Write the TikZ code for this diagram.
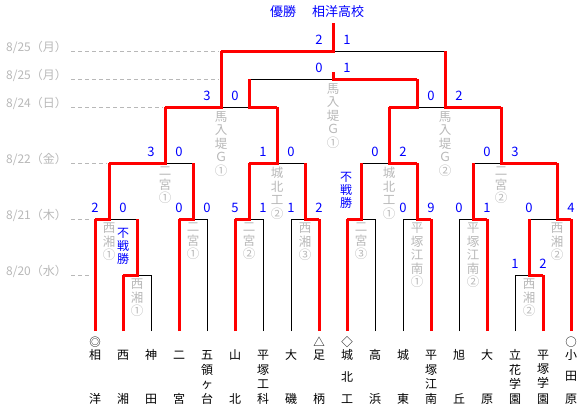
\documentclass[tikz,border=0pt]{standalone}
\usepackage{fontspec}
\setmainfont{Noto Sans CJK JP}
\usepackage{tikz}
\usetikzlibrary{calc}
\usepackage{xcolor}
\definecolor{winred}{HTML}{FF0000}
\definecolor{scoreblue}{HTML}{0000FF}
\definecolor{palegray}{HTML}{B8B8B8}
\tikzset{
  win/.style={line width=3pt, draw=winred, line cap=square},
  lose/.style={line width=1pt, draw=black},
  dateline/.style={line width=1pt, draw=palegray, dash pattern=on 4pt off 3pt},
  datetext/.style={text=palegray, font=\fontsize{12}{12}\selectfont, anchor=west, inner sep=0pt},
  score/.style={text=scoreblue, font=\fontsize{13}{13}\selectfont, inner sep=0pt},
  venue/.style={text=palegray, font=\fontsize{12.5}{13.5}\selectfont, align=center, anchor=north, inner sep=0pt},
  walkover/.style={text=scoreblue, font=\fontsize{12}{13}\selectfont, align=center, anchor=north, inner sep=0pt},
  teamtext/.style={font=\fontsize{12}{14}\selectfont, align=center, inner sep=0pt},
}

\begin{document}
\begin{tikzpicture}[x=1pt, y=-1pt]  % 1px = 1pt, y nach unten
  \useasboundingbox (0,0) rectangle (584,410);
  % 優勝
  \node[score, anchor=west] (title1) at (270,12) {優勝};
  \node[score, anchor=west] (title2) at (312,12) {相洋高校};
  % 日付と点線
  \foreach \y/\e/\d/\w [count=\i] in {51/219/25/月, 79/219/25/月, 107/163/24/日, 163/107/22/金, 219/91/21/木, 275/90/20/水}{
    \node[datetext] (date\i) at (6,\y-4) {8/\d（\w）};
    \draw[dateline] (71,\y) -- (\e,\y);
  }
  % 敗者の縦線（チーム 28px 間隔）
  \foreach \k/\t in {2/275,4/219,6/219,7/219,10/219,11/219,13/219,15/275}
    \draw[lose] ({95+28*\k},331) -- ({95+28*\k},\t);
  % 試合の横線 黒（勝者/上/敗者 の列, 14px 間隔）
  \foreach \lv/\tp/\w/\u/\l in {275/219/2/3/4, 275/219/32/31/30,
      219/163/0/1/3, 219/163/6/7/8, 219/163/10/11/12, 219/163/16/15/14,
      219/163/18/19/20, 219/163/24/23/22, 219/163/28/27/26, 219/163/34/33/31,
      163/107/1/5/7, 163/107/11/13/15, 163/107/23/21/19, 163/107/33/29/27}
    \draw[lose] ({95+14*\u},\lv) -- ({95+14*\l},\lv);
  \draw[lose] (221,107) -- (249,107);
  \draw[lose] (417,107) -- (445,107);
  \draw[lose] (249,79) -- (333,79);
  \draw[lose] (333,51) -- (445,51);
  % 勝者の縦線 赤
  \foreach \k/\t in {0/219,1/275,3/219,5/219,8/219,9/219,12/219,14/219,16/275,17/219}
    \draw[win] ({95+28*\k},331) -- ({95+28*\k},\t);
  \foreach \lv/\tp/\w/\u/\l in {275/219/2/3/4, 275/219/32/31/30,
      219/163/0/1/3, 219/163/6/7/8, 219/163/10/11/12, 219/163/16/15/14,
      219/163/18/19/20, 219/163/24/23/22, 219/163/28/27/26, 219/163/34/33/31,
      163/107/1/5/7, 163/107/11/13/15, 163/107/23/21/19, 163/107/33/29/27}
    \draw[win] ({95+14*\w},\lv) -- ({95+14*\u},\lv) -- ({95+14*\u},\tp);
  % 準決勝・3位決定戦・決勝
  \draw[win] (165,107) -- (221,107) -- (221,51);
  \draw[win] (277,107) -- (249,107) -- (249,79);
  \draw[win] (389,107) -- (417,107) -- (417,79);
  \draw[win] (501,107) -- (445,107) -- (445,51);
  \draw[win] (417,79) -- (333,79) -- (333,72);
  \draw[win] (221,51) -- (333,51) -- (333,23);
  % スコア
  \foreach \lv/\k/\s [count=\i] in {275/30/1, 275/32/2,
      219/0/2, 219/2/0, 219/6/0, 219/8/0, 219/10/5, 219/12/1, 219/14/1, 219/16/2,
      219/22/0, 219/24/9, 219/26/0, 219/28/1, 219/31/0, 219/34/4,
      163/4/3, 163/6/0, 163/12/1, 163/14/0, 163/20/0, 163/22/2, 163/28/0, 163/30/3,
      107/8/3, 107/10/0, 107/24/0, 107/26/2, 79/16/0, 79/18/1, 51/16/2, 51/18/1}
    \node[score] (s\i) at ({95+14*\k},\lv-11) {\s};
  % 会場
  \foreach \k/\lv/\txt [count=\i] in {3/275/{西\\湘\\①}, 31/275/{西\\湘\\②},
      1/219/{西\\湘\\①}, 7/219/{二\\宮\\①}, 11/219/{二\\宮\\②}, 15/219/{西\\湘\\③},
      19/219/{二\\宮\\③}, 23/219/{平\\塚\\江\\南\\①}, 27/219/{平\\塚\\江\\南\\②}, 33/219/{西\\湘\\②},
      5/163/{二\\宮\\①}, 13/163/{城\\北\\工\\②}, 21/163/{城\\北\\工\\①}, 29/163/{二\\宮\\②},
      9/107/{馬\\入\\堤\\Ｇ\\①}, 25/107/{馬\\入\\堤\\Ｇ\\②}, 17/79/{馬\\入\\堤\\Ｇ\\①}}
    \node[venue] (v\i) at ({95+14*\k},\lv+4) {\txt};
  % 不戦勝
  \node[walkover] (bye1) at (123,228.5) {不\\戦\\勝};
  \node[walkover] (bye2) at (346,172.5) {不\\戦\\勝};
  % 校名
  \foreach \k/\a/\b in {0/相/洋, 1/西/湘, 2/神/田, 3/二/宮, 4/五/台, 5/山/北, 6/平/科, 7/大/磯, 8/足/柄,
      9/城/工, 10/高/浜, 11/城/東, 12/平/南, 13/旭/丘, 14/大/原, 15/立/園, 16/平/園, 17/小/原}{
    \node[teamtext] (team\k) at ({95+28*\k},355) {\a};
    \node[teamtext] (teamb\k) at ({95+28*\k},399) {\b};
  }
  \foreach \k/\m in {4/{領\\ヶ}, 6/{塚\\工}, 9/北, 12/{塚\\江}, 15/{花\\学}, 16/{塚\\学}, 17/田}
    \node[teamtext] (teamm\k) at ({95+28*\k},376.5) {\m};
  \foreach \k/\s in {0/◎, 8/△, 9/◇, 17/○}
    \node[teamtext, font=\fontsize{11.5}{11.5}\selectfont] (mark\k) at ({95+28*\k},342) {\s};
\end{tikzpicture}
\end{document}
